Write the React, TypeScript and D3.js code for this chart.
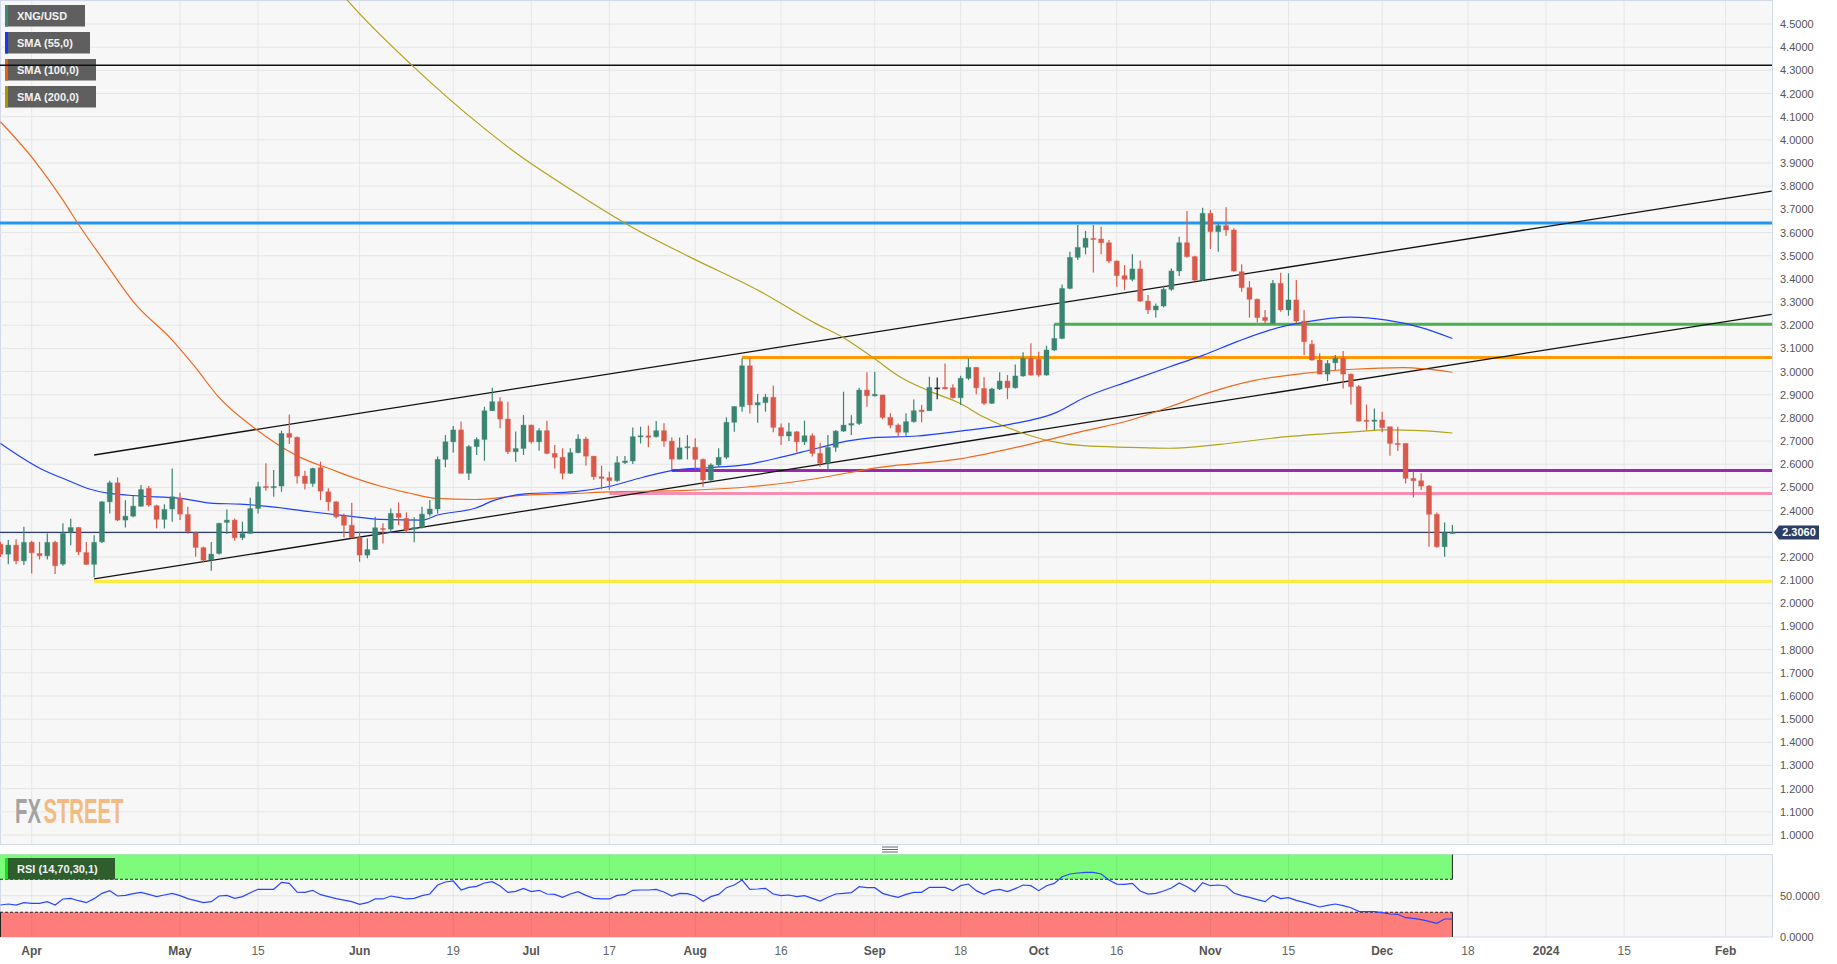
import * as d3 from "d3";

// XNG/USD daily candles, first candle = 2023-03-28, last = 2023-12-14 (trading days only)
// each row: [open, high, low, close]
const ohlc: [number, number, number, number][] = [
  [2.255, 2.265, 2.2, 2.212], [2.212, 2.273, 2.169, 2.251], [2.251, 2.276, 2.169, 2.183], [2.183, 2.33, 2.165, 2.263],
  [2.263, 2.27, 2.129, 2.218], [2.215, 2.265, 2.189, 2.205], [2.205, 2.301, 2.189, 2.263], [2.263, 2.27, 2.126, 2.162],
  [2.169, 2.345, 2.162, 2.301], [2.306, 2.365, 2.251, 2.327], [2.327, 2.33, 2.208, 2.222], [2.219, 2.265, 2.165, 2.168],
  [2.168, 2.294, 2.112, 2.263], [2.265, 2.44, 2.26, 2.438], [2.438, 2.529, 2.388, 2.52], [2.52, 2.543, 2.355, 2.359],
  [2.359, 2.445, 2.327, 2.376], [2.376, 2.463, 2.371, 2.419], [2.419, 2.51, 2.417, 2.491], [2.496, 2.506, 2.417, 2.424],
  [2.421, 2.425, 2.323, 2.362], [2.362, 2.427, 2.323, 2.405], [2.407, 2.582, 2.352, 2.46], [2.453, 2.477, 2.359, 2.385],
  [2.383, 2.417, 2.3, 2.309], [2.304, 2.31, 2.201, 2.241], [2.24, 2.245, 2.179, 2.186], [2.186, 2.265, 2.14, 2.212],
  [2.215, 2.348, 2.21, 2.345], [2.349, 2.405, 2.299, 2.359], [2.359, 2.366, 2.27, 2.283], [2.283, 2.352, 2.273, 2.301],
  [2.301, 2.455, 2.3, 2.409], [2.409, 2.524, 2.388, 2.503], [2.504, 2.604, 2.486, 2.499], [2.499, 2.575, 2.46, 2.504],
  [2.506, 2.745, 2.481, 2.733], [2.733, 2.815, 2.687, 2.716], [2.716, 2.72, 2.517, 2.549], [2.549, 2.572, 2.491, 2.517],
  [2.517, 2.585, 2.503, 2.582], [2.585, 2.611, 2.445, 2.484], [2.481, 2.496, 2.399, 2.438], [2.438, 2.44, 2.366, 2.373],
  [2.376, 2.388, 2.284, 2.337], [2.337, 2.434, 2.28, 2.284], [2.284, 2.309, 2.179, 2.208], [2.208, 2.28, 2.194, 2.232],
  [2.232, 2.373, 2.23, 2.326], [2.323, 2.345, 2.258, 2.321], [2.32, 2.409, 2.313, 2.388], [2.388, 2.435, 2.337, 2.371],
  [2.366, 2.392, 2.304, 2.316], [2.32, 2.371, 2.263, 2.327], [2.327, 2.417, 2.323, 2.385], [2.385, 2.446, 2.374, 2.407],
  [2.407, 2.633, 2.388, 2.621], [2.621, 2.726, 2.587, 2.697], [2.697, 2.765, 2.651, 2.748], [2.748, 2.784, 2.56, 2.561],
  [2.561, 2.683, 2.532, 2.676], [2.676, 2.716, 2.64, 2.707], [2.707, 2.848, 2.615, 2.831], [2.831, 2.93, 2.83, 2.87],
  [2.87, 2.889, 2.755, 2.795], [2.795, 2.87, 2.644, 2.654], [2.654, 2.741, 2.611, 2.668], [2.668, 2.812, 2.64, 2.769],
  [2.769, 2.77, 2.69, 2.697], [2.697, 2.755, 2.658, 2.745], [2.745, 2.788, 2.643, 2.647], [2.647, 2.683, 2.582, 2.63],
  [2.63, 2.669, 2.535, 2.561], [2.561, 2.669, 2.558, 2.65], [2.65, 2.729, 2.647, 2.709], [2.709, 2.719, 2.594, 2.635],
  [2.635, 2.636, 2.532, 2.546], [2.546, 2.594, 2.492, 2.539], [2.542, 2.568, 2.489, 2.529], [2.529, 2.635, 2.525, 2.607],
  [2.607, 2.636, 2.601, 2.614], [2.614, 2.759, 2.601, 2.719], [2.719, 2.762, 2.69, 2.723], [2.723, 2.766, 2.673, 2.716],
  [2.719, 2.787, 2.716, 2.745], [2.745, 2.777, 2.676, 2.7], [2.7, 2.716, 2.575, 2.622], [2.622, 2.716, 2.621, 2.671],
  [2.671, 2.726, 2.621, 2.676], [2.673, 2.712, 2.578, 2.621], [2.621, 2.625, 2.503, 2.532], [2.532, 2.604, 2.525, 2.597],
  [2.597, 2.669, 2.589, 2.63], [2.63, 2.802, 2.622, 2.781], [2.781, 2.85, 2.74, 2.849], [2.849, 3.057, 2.827, 3.025],
  [3.025, 3.057, 2.819, 2.856], [2.856, 2.903, 2.779, 2.866], [2.866, 2.903, 2.827, 2.889], [2.889, 2.939, 2.738, 2.759],
  [2.758, 2.776, 2.683, 2.722], [2.722, 2.779, 2.7, 2.74], [2.74, 2.743, 2.651, 2.697], [2.697, 2.788, 2.683, 2.723],
  [2.723, 2.733, 2.633, 2.647], [2.647, 2.693, 2.589, 2.604], [2.604, 2.726, 2.579, 2.673], [2.673, 2.748, 2.654, 2.743],
  [2.743, 2.913, 2.74, 2.769], [2.769, 2.812, 2.726, 2.776], [2.776, 2.93, 2.769, 2.92], [2.92, 2.997, 2.848, 2.896],
  [2.895, 2.999, 2.892, 2.902], [2.899, 2.9, 2.795, 2.802], [2.802, 2.82, 2.755, 2.769], [2.769, 2.776, 2.719, 2.738],
  [2.738, 2.82, 2.723, 2.784], [2.784, 2.88, 2.779, 2.831], [2.834, 2.856, 2.781, 2.827], [2.831, 2.978, 2.83, 2.932],
  [2.93, 2.974, 2.881, 2.93], [2.932, 3.035, 2.924, 2.925], [2.93, 2.945, 2.884, 2.887], [2.887, 2.982, 2.856, 2.971],
  [2.971, 3.057, 2.963, 3.018], [3.018, 3.02, 2.902, 2.93], [2.927, 2.975, 2.856, 2.863], [2.863, 2.93, 2.86, 2.925],
  [2.925, 2.997, 2.92, 2.959], [2.959, 2.985, 2.881, 2.93], [2.93, 3.031, 2.927, 2.981], [2.981, 3.083, 2.978, 3.057],
  [3.057, 3.122, 2.982, 2.985], [3.053, 3.086, 2.978, 2.985], [2.985, 3.112, 2.982, 3.093], [3.093, 3.205, 3.089, 3.143],
  [3.143, 3.376, 3.14, 3.359], [3.359, 3.517, 3.355, 3.493], [3.493, 3.633, 3.481, 3.536], [3.536, 3.607, 3.506, 3.575],
  [3.575, 3.633, 3.428, 3.571], [3.572, 3.625, 3.506, 3.556], [3.556, 3.568, 3.467, 3.477], [3.477, 3.48, 3.366, 3.414],
  [3.414, 3.46, 3.352, 3.398], [3.398, 3.506, 3.39, 3.443], [3.443, 3.479, 3.3, 3.304], [3.304, 3.33, 3.248, 3.266],
  [3.266, 3.294, 3.233, 3.283], [3.283, 3.371, 3.277, 3.355], [3.355, 3.445, 3.349, 3.434], [3.434, 3.582, 3.412, 3.556],
  [3.556, 3.693, 3.491, 3.496], [3.496, 3.5, 3.39, 3.395], [3.395, 3.707, 3.391, 3.683], [3.683, 3.698, 3.529, 3.604],
  [3.604, 3.64, 3.517, 3.63], [3.63, 3.709, 3.586, 3.611], [3.611, 3.618, 3.431, 3.434], [3.431, 3.463, 3.345, 3.362],
  [3.362, 3.391, 3.233, 3.312], [3.312, 3.315, 3.212, 3.233], [3.234, 3.266, 3.208, 3.22], [3.208, 3.395, 3.205, 3.381],
  [3.381, 3.427, 3.258, 3.266], [3.266, 3.424, 3.241, 3.309], [3.309, 3.395, 3.208, 3.218], [3.218, 3.266, 3.071, 3.129],
  [3.118, 3.136, 3.047, 3.05], [3.05, 3.079, 2.988, 2.989], [2.989, 3.05, 2.959, 3.035], [3.038, 3.071, 3.007, 3.057],
  [3.057, 3.089, 2.927, 2.989], [2.989, 2.992, 2.858, 2.935], [2.935, 2.942, 2.784, 2.786], [2.79, 2.858, 2.748, 2.786],
  [2.785, 2.841, 2.748, 2.791], [2.791, 2.827, 2.738, 2.758], [2.762, 2.762, 2.637, 2.69], [2.69, 2.762, 2.657, 2.686],
  [2.69, 2.69, 2.517, 2.539], [2.539, 2.568, 2.457, 2.529], [2.529, 2.561, 2.489, 2.506], [2.506, 2.51, 2.244, 2.384],
  [2.384, 2.392, 2.24, 2.244], [2.244, 2.349, 2.201, 2.304], [2.304, 2.338, 2.3, 2.306],
];

// RSI(14) per candle
const rsi = [
  38.8, 40.0, 38.6, 41.6, 40.8, 40.8, 42.8, 38.8, 46.1, 46.9,
  44.0, 41.6, 46.5, 52.9, 56.2, 49.7, 50.5, 52.5, 54.1, 51.7,
  48.9, 50.9, 52.9, 50.1, 46.5, 44.0, 41.6, 42.8, 49.7, 50.5,
  46.9, 48.9, 53.7, 57.8, 57.8, 57.8, 66.3, 65.0, 54.5, 54.1,
  56.6, 51.3, 48.9, 46.5, 44.8, 42.8, 39.6, 41.6, 46.1, 46.1,
  49.7, 48.1, 46.1, 46.9, 50.1, 52.1, 63.0, 66.7, 67.9, 57.0,
  60.2, 61.4, 65.5, 67.1, 61.8, 54.1, 55.4, 59.0, 55.0, 56.6,
  52.1, 51.7, 48.1, 52.1, 55.0, 50.5, 46.9, 46.1, 46.1, 50.5,
  51.3, 56.6, 57.0, 57.0, 57.8, 54.5, 49.7, 52.9, 52.5, 49.7,
  43.2, 48.9, 51.7, 59.8, 63.0, 69.1, 57.8, 58.2, 59.0, 52.1,
  50.1, 50.9, 48.9, 50.1, 46.9, 43.6, 48.1, 52.1, 52.9, 53.7,
  61.0, 59.8, 59.8, 52.9, 50.1, 48.1, 51.7, 54.1, 54.1, 60.2,
  60.2, 60.2, 56.2, 62.2, 64.2, 56.2, 51.7, 56.2, 57.8, 55.0,
  58.6, 63.0, 62.2, 56.2, 62.2, 65.0, 73.1, 76.4, 77.6, 78.4,
  78.4, 76.4, 69.1, 64.2, 63.8, 65.0, 55.8, 52.1, 52.9, 55.8,
  59.4, 65.5, 61.0, 55.0, 65.9, 62.2, 63.0, 61.8, 53.3, 50.1,
  48.1, 45.3, 42.8, 50.5, 46.5, 47.7, 44.4, 42.0, 39.2, 36.4,
  38.4, 40.0, 38.0, 35.5, 31.1, 30.7, 30.7, 29.5, 27.9, 27.5,
  23.4, 22.6, 21.0, 19.0, 16.6, 21.8, 21.8,
];

// moving averages: [candle index, value]
const sma55: [number, number][] = [
  [0, 2.69], [5.1, 2.582], [8.5, 2.532], [11.5, 2.492], [14, 2.474], [17.9, 2.463], [23, 2.453],
  [27.3, 2.431], [30.7, 2.428], [35.4, 2.414], [39.7, 2.395], [44.4, 2.377], [48.6, 2.362], [54, 2.359],
  [56, 2.381], [60.8, 2.41], [63.4, 2.446], [67.2, 2.472], [73.6, 2.482], [77.8, 2.503], [82.2, 2.543],
  [86.4, 2.575], [90.6, 2.585], [96.2, 2.602], [100.3, 2.633], [104.6, 2.669], [108.8, 2.702], [111.8, 2.715],
  [117.4, 2.722], [122.9, 2.743], [129.3, 2.772], [135.3, 2.824], [138.7, 2.885], [144.7, 2.96], [149.8, 3.021],
  [154.1, 3.071], [158.4, 3.129], [162.6, 3.179], [166.9, 3.212], [172.9, 3.235], [177.6, 3.222],
  [181.9, 3.191], [186, 3.143],
];
const sma100: [number, number][] = [
  [0, 4.078], [4.3, 3.913], [8, 3.74], [10.2, 3.625], [13.2, 3.481], [17.2, 3.294], [22, 3.136],
  [24.9, 3.021], [27.9, 2.892], [32.3, 2.762], [38.2, 2.633], [42.6, 2.575], [45.5, 2.539], [48.6, 2.506],
  [52.2, 2.477], [55.7, 2.453], [60.8, 2.448], [67.2, 2.467], [73.6, 2.474], [77.8, 2.481], [87.1, 2.486],
  [96.7, 2.505], [103.3, 2.532], [113.1, 2.589], [122.9, 2.623], [132.3, 2.69], [138.7, 2.743],
  [144.7, 2.79], [149.8, 2.848], [154.9, 2.91], [160.5, 2.961], [166.9, 2.992], [173.3, 3.01],
  [179.7, 3.017], [186, 2.997],
];
const sma200: [number, number][] = [
  [42.5, 4.68], [44.4, 4.604], [52.9, 4.316], [61.7, 4.057], [66.1, 3.942], [73.5, 3.776], [80.8, 3.625],
  [88.2, 3.496], [97, 3.352], [104.4, 3.208], [108, 3.146], [111.9, 3.057], [115.2, 2.978], [118.7, 2.92],
  [122.9, 2.863], [125.9, 2.805], [128.5, 2.765], [131, 2.734], [134.5, 2.7], [138.7, 2.68], [144.7, 2.673],
  [149.8, 2.669], [156.2, 2.686], [164.8, 2.719], [173.3, 2.74], [177.6, 2.748], [181.9, 2.745], [186, 2.735],
];

// drawn levels: price and first candle index (null = from left edge)
const levels: { name: string; price: number; start: number | null }[] = [
  { name: "top", price: 4.322, start: null },
  { name: "blue", price: 3.641, start: null },
  { name: "green", price: 3.204, start: 135 },
  { name: "orange", price: 3.061, start: 95 },
  { name: "purple", price: 2.573, start: 86 },
  { name: "pink", price: 2.474, start: 78 },
  { name: "yellow", price: 2.094, start: 12 },
];
// channel lines: [candle index, price] at both ends
const channelUpper: [number, number][] = [[12, 2.64], [226.9, 3.779]];
const channelLower: [number, number][] = [[12, 2.105], [226.9, 3.247]];

const lastPrice = 2.306;

const xTicks: { i: number; label: string; bold: boolean }[] = [
  { i: 4, label: "Apr", bold: true }, { i: 23, label: "May", bold: true }, { i: 33, label: "15", bold: false },
  { i: 46, label: "Jun", bold: true }, { i: 58, label: "19", bold: false }, { i: 68, label: "Jul", bold: true },
  { i: 78, label: "17", bold: false }, { i: 89, label: "Aug", bold: true }, { i: 100, label: "16", bold: false },
  { i: 112, label: "Sep", bold: true }, { i: 123, label: "18", bold: false }, { i: 133, label: "Oct", bold: true },
  { i: 143, label: "16", bold: false }, { i: 155, label: "Nov", bold: true }, { i: 165, label: "15", bold: false },
  { i: 177, label: "Dec", bold: true }, { i: 188, label: "18", bold: false }, { i: 198, label: "2024", bold: true },
  { i: 208, label: "15", bold: false }, { i: 221, label: "Feb", bold: true },
];
const priceTicks = d3.range(10, 46).map((v) => v / 10);
const rsiTicks = [0, 50];

const legendItems = [
  { label: "XNG/USD", color: "#3a8a78", w: 80 },
  { label: "SMA (55,0)", color: "#1436ff", w: 85 },
  { label: "SMA (100,0)", color: "#e8600a", w: 91 },
  { label: "SMA (200,0)", color: "#a89800", w: 91 },
];

const levelStyle: Record<string, { color: string; width: number }> = {
  top: { color: "#111", width: 1.5 },
  blue: { color: "#2196f3", width: 3 },
  green: { color: "#4caf50", width: 3 },
  orange: { color: "#ff9800", width: 3 },
  purple: { color: "#9c27b0", width: 3 },
  pink: { color: "#f48fb1", width: 3 },
  yellow: { color: "#ffeb3b", width: 3 },
};

const App = () => {
  const width = 1837;
  const height = 964;
  const plotW = 1772;
  const mainBottom = 844;
  const rsiTop = 855;
  const rsiBottom = 937;
  const font = "'Liberation Sans', Arial, sans-serif";

  const x = d3.scaleLinear().domain([-0.061, 226.94]).range([0, plotW]);
  const y = d3.scaleLinear().domain([1.0, 4.5]).range([835, 24]);
  const ry = d3.scaleLinear().domain([0, 100]).range([rsiBottom, 854.5]);

  const smaLine = d3
    .line<[number, number]>()
    .x((d) => x(d[0]))
    .y((d) => y(d[1]))
    .curve(d3.curveMonotoneX);
  const rsiLine = d3
    .line<number>()
    .x((_, i) => x(i))
    .y((d) => ry(d));

  const green = "#3a8472";
  const red = "#d9594a";
  const bodyW = 5;
  const lastX = x(ohlc.length - 1);

  return (
    <div style={{ position: "absolute", left: 0, top: 0 }}>
      <svg width={width} height={height} style={{ display: "block", background: "#fff" }}>
        <defs>
          <clipPath id="main-clip">
            <rect x={0} y={0} width={plotW} height={mainBottom} />
          </clipPath>
        </defs>

        {/* main panel */}
        <rect x={0.5} y={0.5} width={plotW} height={mainBottom} fill="#f7f7f7" stroke="#d3d9e8" />
        {priceTicks.map((p) => (
          <line key={p} x1={0} x2={plotW} y1={y(p)} y2={y(p)} stroke="#e6e6e6" />
        ))}
        {xTicks.map((t) => (
          <line key={t.i} x1={x(t.i)} x2={x(t.i)} y1={1} y2={mainBottom} stroke="#e6e6e6" />
        ))}

        {/* legend */}
        {legendItems.map((d, k) => (
          <g key={d.label} transform={`translate(5,${5 + k * 27})`}>
            <rect width={d.w} height={21.5} fill="#5f5f5f" />
            <rect width={3} height={21.5} fill={d.color} />
            <text x={12} y={15} fill="#f2f2f2" fontFamily={font} fontWeight="bold" fontSize={11}>
              {d.label}
            </text>
          </g>
        ))}

        {/* watermark, condensed by a horizontal scale */}
        <g transform="translate(15,823) scale(0.58,1)">
          <text x={0} y={0} fill="#a3a3a3" fontFamily={font} fontWeight="bold" fontSize={35}>
            FX
          </text>
          <text x={49} y={0} fill="#f2bb84" fontFamily={font} fontWeight="bold" fontSize={35}>
            STREET
          </text>
        </g>

        <g clipPath="url(#main-clip)">
          {/* levels */}
          {levels.map((l) => (
            <line
              key={l.name}
              x1={l.start === null ? 0 : x(l.start)}
              x2={plotW}
              y1={y(l.price)}
              y2={y(l.price)}
              stroke={levelStyle[l.name].color}
              strokeWidth={levelStyle[l.name].width}
            />
          ))}
          {[channelUpper, channelLower].map((c, k) => (
            <line
              key={k}
              x1={x(c[0][0])}
              y1={y(c[0][1])}
              x2={x(c[1][0])}
              y2={y(c[1][1])}
              stroke="#111"
              strokeWidth={1.3}
            />
          ))}
          <line x1={0} x2={plotW} y1={y(lastPrice)} y2={y(lastPrice)} stroke="#2c3e63" strokeWidth={1.2} />

          {/* moving averages */}
          <path d={smaLine(sma200) ?? ""} fill="none" stroke="#b3a31c" strokeWidth={1.2} />
          <path d={smaLine(sma100) ?? ""} fill="none" stroke="#f0681c" strokeWidth={1.2} />
          <path d={smaLine(sma55) ?? ""} fill="none" stroke="#1e40ff" strokeWidth={1.2} />

          {/* candles */}
          {ohlc.map(([o, h, l, c], i) => {
            const col = o === c ? "#222" : c > o ? green : red;
            const top = y(Math.max(o, c));
            const bh = Math.max(1.2, Math.abs(y(o) - y(c)));
            return (
              <g key={i}>
                <line x1={x(i)} x2={x(i)} y1={y(h)} y2={y(l)} stroke={col} strokeWidth={1.2} />
                <rect
                  x={x(i) - bodyW / 2}
                  y={top}
                  width={bodyW}
                  height={bh}
                  fill={col}
                  stroke={col}
                  strokeOpacity={0.35}
                  strokeWidth={1}
                />
              </g>
            );
          })}
        </g>

        {/* price axis */}
        {priceTicks
          .filter((p) => Math.abs(p - 2.3) > 0.01)
          .map((p) => (
            <text key={p} x={1780} y={y(p) + 4} fill="#555" fontFamily={font} fontSize={11}>
              {p.toFixed(4)}
            </text>
          ))}
        <path
          d={`M1774,${y(lastPrice)} L1779,${y(lastPrice) - 7} H1819 V${y(lastPrice) + 7} H1779 Z`}
          fill="#2c3e63"
        />
        <text
          x={1799}
          y={y(lastPrice) + 4}
          fill="#fff"
          fontFamily={font}
          fontWeight="bold"
          fontSize={11}
          textAnchor="middle"
        >
          {lastPrice.toFixed(4)}
        </text>

        {/* panel divider */}
        {[847, 849.5, 852].map((yy) => (
          <line key={yy} x1={882} x2={898} y1={yy} y2={yy} stroke="#666" strokeWidth={1} />
        ))}

        {/* RSI panel */}
        <rect x={0.5} y={rsiTop - 0.5} width={plotW} height={rsiBottom - rsiTop + 0.5} fill="#f7f7f7" stroke="#d3d9e8" />
        <line x1={0} x2={plotW} y1={ry(50)} y2={ry(50)} stroke="#e2e2e2" />
        <rect x={0} y={ry(100)} width={lastX} height={ry(70) - ry(100)} fill="#7dfb7b" />
        <rect x={0} y={ry(30)} width={lastX} height={ry(0) - ry(30)} fill="#fd7d7b" />
        {xTicks.map((t) => (
          <line key={t.i} x1={x(t.i)} x2={x(t.i)} y1={rsiTop} y2={rsiBottom} stroke="#000" strokeOpacity={0.07} />
        ))}
        <line x1={0} x2={lastX} y1={ry(70)} y2={ry(70)} stroke="#222" strokeDasharray="3,2" />
        <line x1={0} x2={lastX} y1={ry(30)} y2={ry(30)} stroke="#222" strokeDasharray="3,2" />
        <line x1={lastX} x2={lastX} y1={ry(100)} y2={ry(70)} stroke="#222" />
        <line x1={lastX} x2={lastX} y1={ry(30)} y2={ry(0)} stroke="#222" />
        <line x1={0.5} x2={0.5} y1={ry(30)} y2={ry(0)} stroke="#222" />
        <path d={rsiLine(rsi) ?? ""} fill="none" stroke="#2846ff" strokeWidth={1.2} />
        <g transform="translate(5,858)">
          <rect width={110} height={21.5} fill="#2e5e2e" />
          <rect width={3} height={21.5} fill="#19e019" />
          <text x={12} y={15} fill="#f2f2f2" fontFamily={font} fontWeight="bold" fontSize={11}>
            RSI (14,70,30,1)
          </text>
        </g>
        {rsiTicks.map((v) => (
          <text key={v} x={1780} y={ry(v) + 4} fill="#555" fontFamily={font} fontSize={11}>
            {v.toFixed(4)}
          </text>
        ))}

        {/* date axis */}
        {xTicks.map((t) => (
          <text
            key={t.i}
            x={x(t.i)}
            y={955}
            textAnchor="middle"
            fill={t.bold ? "#555" : "#666"}
            fontFamily={font}
            fontWeight={t.bold ? "bold" : "normal"}
            fontSize={12}
          >
            {t.label}
          </text>
        ))}
      </svg>
    </div>
  );
};

export default App;
